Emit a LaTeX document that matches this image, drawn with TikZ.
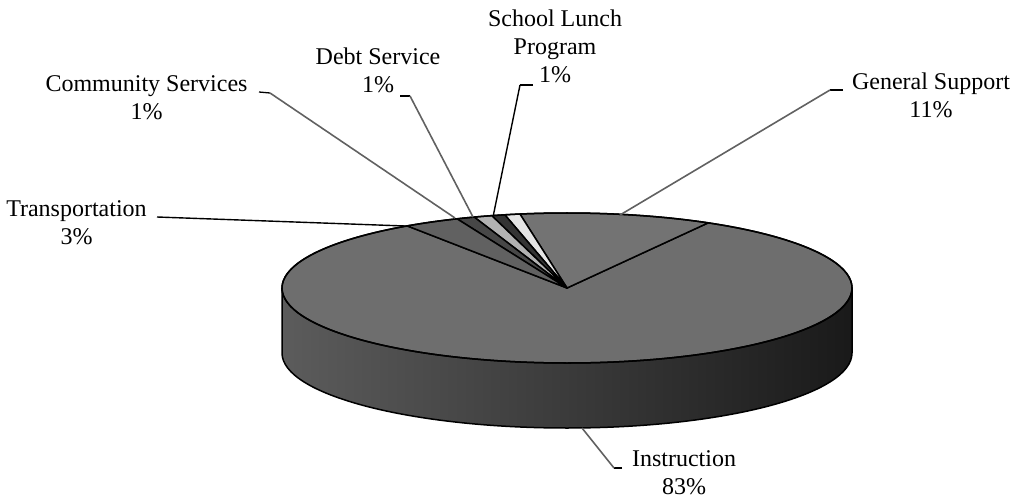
\documentclass[tikz,border=0pt]{standalone}
\usepackage{fontspec}
\setmainfont{Liberation Serif}
\tikzset{
  lbl/.style={anchor=north, align=center, inner sep=0pt, font=\fontsize{24}{28}\selectfont},
  rim/.style={draw=black, line width=1.5pt, line join=round},
  tick/.style={black, line width=1.3pt},
  lead/.style={black!62, line width=1.6pt},
  leadk/.style={black, line width=1.4pt}
}
\begin{document}
\begin{tikzpicture}[x=1pt,y=1pt]
  \useasboundingbox (0,0) rectangle (1016,501);
  \coordinate (C) at (567,213);
  \shade[left color=black!64, middle color=black!72, right color=black!90]
    (282,213) arc[start angle=180, end angle=360, x radius=285pt, y radius=75pt]
    -- (852,148) arc[start angle=0, end angle=-180, x radius=285pt, y radius=75pt] -- cycle;
  \draw[rim] (282,213) -- (282,148)
    arc[start angle=180, end angle=360, x radius=285pt, y radius=75pt] -- (852,213);
  \foreach \a/\b/\c in {124.1/420.3/black!57, 60.3/99.5/black!55, 99.5/102.6/black!10,
      102.6/105.3/black!80, 105.3/109/black!30, 109/112.7/black!72, 112.7/124.1/black!62}
    \filldraw[fill=\c, rim] (C) -- ++(\a:285pt and 75pt)
      arc[start angle=\a, end angle=\b, x radius=285pt, y radius=75pt] -- cycle;
  \draw[rim] (C) ellipse[x radius=285pt, y radius=75pt];

  \node[lbl] (cs) at (146.5,426) {Community Services\\1\%};
  \node[lbl] (ds) at (378,453) {Debt Service\\1\%};
  \node[lbl] (sl) at (555,491) {School Lunch\\Program\\1\%};
  \node[lbl] (gs) at (931,428) {General Support\\11\%};
  \node[lbl] (tr) at (76.5,301) {Transportation\\3\%};
  \node[lbl] (in) at (684,51) {Instruction\\83\%};

  \coordinate (cs-t) at (259,409);
  \coordinate (cs-b) at (270,408);
  \coordinate (cs-p) at (455,283);
  \coordinate (ds-t) at (400,405);
  \coordinate (ds-b) at (410,405);
  \coordinate (ds-p) at (473,284);
  \coordinate (sl-t) at (533,416);
  \coordinate (sl-b) at (520,416);
  \coordinate (sl-p) at (493,284);
  \coordinate (gs-t) at (843,411);
  \coordinate (gs-b) at (830,411);
  \coordinate (gs-p) at (620,286);
  \coordinate (tr-t) at (157,284);
  \coordinate (tr-p) at (405,275);
  \coordinate (in-t) at (622,33);
  \coordinate (in-b) at (614,33);
  \coordinate (in-p) at (582,73);

  \draw[tick] (cs-t) -- (cs-b);
  \draw[lead] (cs-b) -- (cs-p);
  \draw[tick] (ds-t) -- (ds-b);
  \draw[lead] (ds-b) -- (ds-p);
  \draw[tick] (sl-t) -- (sl-b);
  \draw[leadk] (sl-b) -- (sl-p);
  \draw[tick] (gs-t) -- (gs-b);
  \draw[lead] (gs-b) -- (gs-p);
  \draw[leadk] (tr-t) -- (tr-p);
  \draw[tick] (in-t) -- (in-b);
  \draw[lead] (in-b) -- (in-p);
\end{tikzpicture}
\end{document}
